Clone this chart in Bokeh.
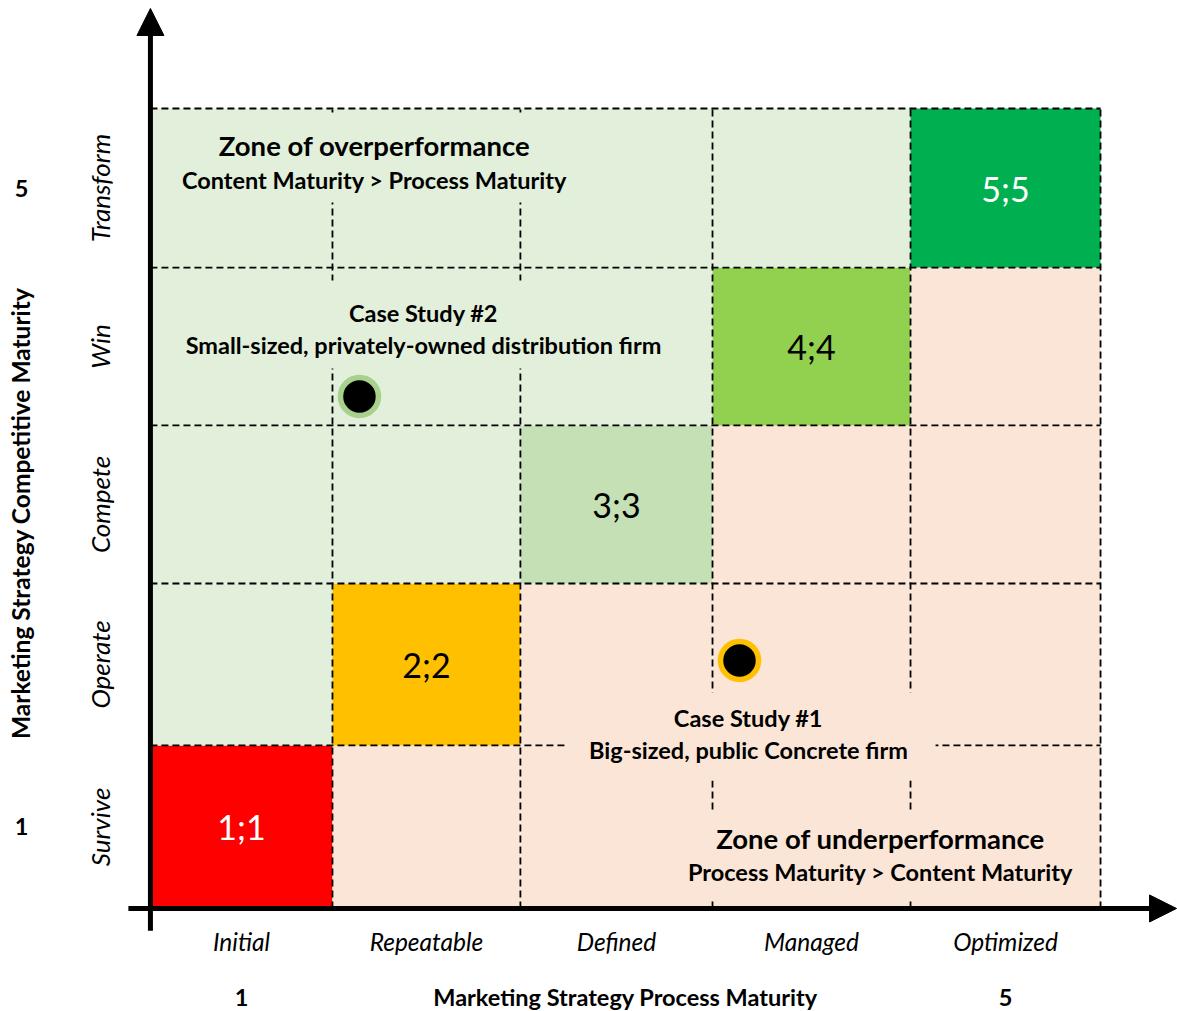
from bokeh.plotting import figure
from bokeh.models import Range1d, ColumnDataSource, Arrow, NormalHead
from bokeh.core.properties import value
from bokeh.embed import file_html
from bokeh.resources import INLINE
import math

# ---------------- data ----------------
process_levels = ["Initial", "Repeatable", "Defined", "Managed", "Optimized"]
competitive_levels = ["Survive", "Operate", "Compete", "Win", "Transform"]
level_numbers = [1, 2, 3, 4, 5]
diagonal_labels = ["1;1", "2;2", "3;3", "4;4", "5;5"]
diagonal_colors = ["#FF0000", "#FFC000", "#C5E0B4", "#92D050", "#00B050"]
diagonal_text_colors = ["#FFFFFF", "#000000", "#000000", "#000000", "#FFFFFF"]

case_names = ["Case Study #1", "Case Study #2"]
case_descriptions = ["Big-sized, public Concrete firm",
                     "Small-sized, privately-owned distribution firm"]
case_process = [3.6, 1.6]        # Marketing Strategy Process Maturity
case_competitive = [2.05, 3.7]   # Marketing Strategy Competitive Maturity
case_ring_colors = ["#FFC000", "#A9D18E"]

zone_titles = ["Zone of overperformance", "Zone of underperformance"]
zone_subtitles = ["Content Maturity > Process Maturity",
                  "Process Maturity > Content Maturity"]
OVER = "#E2EFDA"
UNDER = "#FBE5D6"

x_title = "Marketing Strategy Process Maturity"
y_title = "Marketing Strategy Competitive Maturity"

# layout: cell boundaries of the grid (slightly uneven, as drawn in the original)
COL_EDGES = [0.5, 1.458, 2.447, 3.458, 4.5, 5.5]
ROW_EDGES = [0.5, 1.519, 2.531, 3.519, 4.506, 5.5]
col_centers = [(COL_EDGES[i] + COL_EDGES[i + 1]) / 2 for i in range(5)]
row_centers = [(ROW_EDGES[i] + ROW_EDGES[i + 1]) / 2 for i in range(5)]

FONT = "Lato"

# ---------------- figure ----------------
p = figure(width=1177, height=1011, output_backend="svg", toolbar_location=None,
           x_range=Range1d(-0.289, 5.905), y_range=Range1d(-0.144, 6.175),
           x_axis_location=None, y_axis_location=None, min_border=0)
p.grid.visible = False
p.outline_line_color = None
p.background_fill_color = "white"
p.border_fill_color = "white"

# cells
L, R, B, T, C = [], [], [], [], []
for r in level_numbers:
    for c in level_numbers:
        L.append(COL_EDGES[c - 1]); R.append(COL_EDGES[c])
        B.append(ROW_EDGES[r - 1]); T.append(ROW_EDGES[r])
        if r == c:
            C.append(diagonal_colors[c - 1])
        elif r > c:
            C.append(OVER)
        else:
            C.append(UNDER)
p.quad(left="l", right="r", bottom="b", top="t", fill_color="c", line_color=None,
       source=ColumnDataSource(dict(l=L, r=R, b=B, t=T, c=C)))

# dashed grid
hb = ROW_EDGES[1:]
vb = COL_EDGES[1:]
p.segment(x0=[COL_EDGES[0]] * 5, y0=hb, x1=[COL_EDGES[-1]] * 5, y1=hb,
          line_color="black", line_width=1.8, line_dash="7 4")
p.segment(x0=vb, y0=[ROW_EDGES[0]] * 5, x1=vb, y1=[ROW_EDGES[-1]] * 5,
          line_color="black", line_width=1.8, line_dash="7 4")

# masks behind annotation text (hide dashed lines as in the original)
p.quad(left=[0.605, 0.632, 2.695, 3.342], right=[2.753, 3.237, 4.632, 5.447],
       bottom=[4.913, 3.875, 1.30, 0.55], top=[5.475, 4.425, 1.85, 1.1125],
       fill_color=[OVER, OVER, UNDER, UNDER], line_color=None)

# diagonal labels
p.text(x=[col_centers[n - 1] for n in level_numbers],
       y=[row_centers[n - 1] for n in level_numbers], text=diagonal_labels,
       text_color=diagonal_text_colors, text_font=value(FONT),
       text_font_size="34px", text_align="center", text_baseline="middle")

# zone texts
p.text(x=[1.679, 4.342], y=[5.269, 0.9375], text=zone_titles,
       text_font=value(FONT), text_font_style="bold", text_font_size="27.5px",
       text_align="center", text_baseline="middle", text_color="black")
p.text(x=[1.679, 4.342], y=[5.056, 0.725], text=zone_subtitles,
       text_font=value(FONT), text_font_style="bold", text_font_size="23.5px",
       text_align="center", text_baseline="middle", text_color="black")

# case study texts
p.text(x=[3.647, 1.937], y=[1.6875, 4.219], text=case_names,
       text_font=value(FONT), text_font_style="bold", text_font_size="23.5px",
       text_align="center", text_baseline="middle", text_color="black")
p.text(x=[3.647, 1.937], y=[1.4875, 4.019], text=case_descriptions,
       text_font=value(FONT), text_font_style="bold", text_font_size="23.5px",
       text_align="center", text_baseline="middle", text_color="black")

# case study points
p.scatter(x=case_process, y=case_competitive, size=38, marker="circle",
          fill_color="black", line_color=case_ring_colors, line_width=5.5)

# axes with arrows
p.add_layout(Arrow(end=NormalHead(size=27, fill_color="black", line_color="black"),
                   x_start=0.5, y_start=0.36, x_end=0.5, y_end=6.125,
                   line_color="black", line_width=5))
p.add_layout(Arrow(end=NormalHead(size=27, fill_color="black", line_color="black"),
                   x_start=0.384, y_start=0.5, x_end=5.9, y_end=0.5,
                   line_color="black", line_width=5))

# axis category labels
p.text(x=col_centers, y=[0.294] * 5, text=process_levels,
       text_font=value(FONT), text_font_style="italic", text_font_size="24.5px",
       text_align="center", text_baseline="middle", text_color="black")
p.text(x=[0.237] * 5, y=row_centers, text=competitive_levels, angle=math.pi / 2,
       text_font=value(FONT), text_font_style="italic", text_font_size="26px",
       text_align="center", text_baseline="middle", text_color="black")

# axis ends and titles
p.text(x=[col_centers[0], 3.0, col_centers[-1]], y=[-0.056] * 3,
       text=[str(level_numbers[0]), x_title, str(level_numbers[-1])],
       text_font=value(FONT), text_font_style="bold", text_font_size="23.5px",
       text_align="center", text_baseline="middle", text_color="black")
p.text(x=[-0.178, -0.178], y=[row_centers[0], row_centers[-1]],
       text=[str(level_numbers[0]), str(level_numbers[-1])],
       text_font=value(FONT), text_font_style="bold", text_font_size="23.5px",
       text_align="center", text_baseline="middle", text_color="black")
p.text(x=[-0.184], y=[2.97], text=[y_title], angle=math.pi / 2,
       text_font=value(FONT), text_font_style="bold", text_font_size="24.5px",
       text_align="center", text_baseline="middle", text_color="black")

open("out.html", "w").write(file_html(p, INLINE))
